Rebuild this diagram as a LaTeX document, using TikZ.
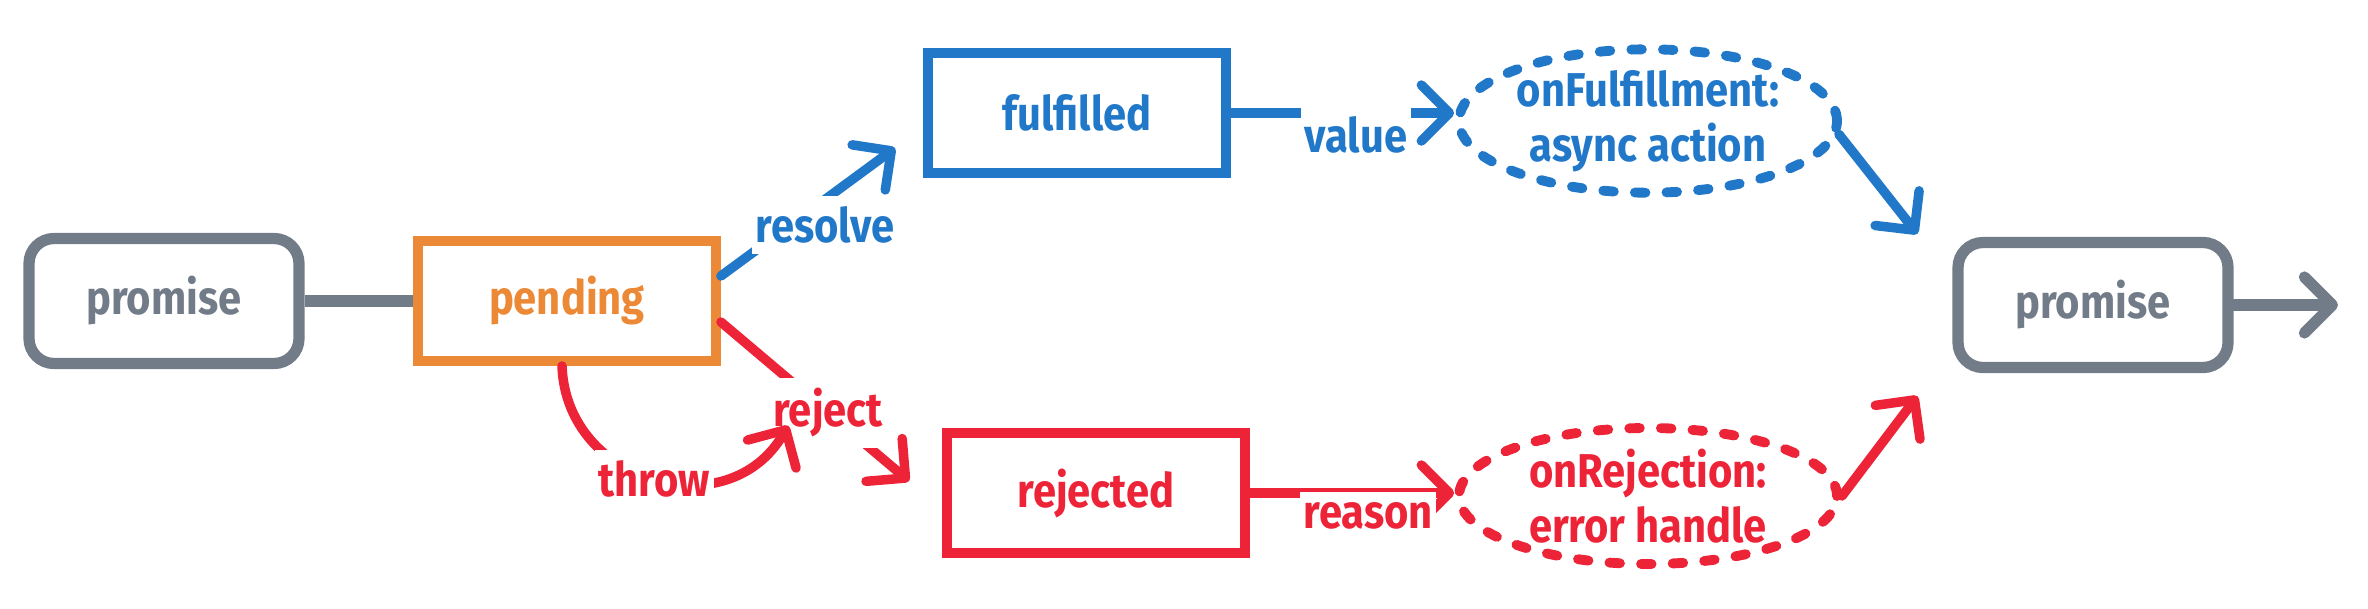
\documentclass[tikz,border=0pt]{standalone}
\usepackage{fontspec}
\setmainfont[FakeStretch=0.88]{Fira Sans}
\usepackage{tikz}
\usetikzlibrary{arrows.meta,shapes.geometric}

\definecolor{pgray}{RGB}{114,124,137}
\definecolor{porange}{RGB}{236,137,54}
\definecolor{pblue}{RGB}{33,120,201}
\definecolor{pred}{RGB}{237,36,56}

\tikzset{
  state/.style={draw, line width=2.8pt, minimum width=2.98cm, minimum height=1.2cm, font=\bfseries\fontsize{13.5}{16}\selectfont},
  promisebox/.style={state, pgray, line width=3.2pt, rounded corners=2.5mm, minimum width=2.7cm, minimum height=1.25cm},
  handler/.style={draw, ellipse, dash pattern=on 3pt off 6pt, line cap=round, line width=2.8pt, minimum width=3.78cm, minimum height=1.36cm, inner sep=0pt, align=center, font=\bfseries\fontsize{13.5}{15.6}\selectfont},
  flow/.style={line width=2.7pt, line cap=round, -{Straight Barb[length=2.8mm,width=5.6mm,round]}},
  lbl/.style={fill=white, inner xsep=1pt, inner ysep=3pt, font=\bfseries\fontsize{13.5}{16}\selectfont},
}

\begin{document}
\begin{tikzpicture}
\useasboundingbox (0,0) rectangle (23.68,6.08);

\node [promisebox] (promisein) at (1.64,3.07) {promise};
\node [state, porange] (pending) at (5.67,3.07) {pending};
\node [state, pblue] (fulfilled) at (10.77,4.95) {fulfilled};
\node [state, pred] (rejected) at (10.96,1.15) {rejected};
\node [handler, pblue] (onfulfill) at (16.48,4.87) {onFulfillment:\\async action};
\node [handler, pred] (onreject) at (16.48,1.12) {onRejection:\\error handle};
\node [promisebox] (promiseout) at (20.93,3.03) {promise};
\coordinate (exit) at (23.38,3.03);

\draw [pgray, line width=3.2pt] (promisein) -- (pending);
\draw [flow, pgray, line width=3.2pt] (promiseout) -- (exit);

\draw [flow, pblue] ([yshift=2.5mm]pending.east) -- ([xshift=-2.8mm,yshift=-3.5mm]fulfilled.west)
  node [lbl, text=pblue, pos=0.6, yshift=-2.6mm] (resolvelbl) {resolve};
\draw [flow, pred] ([yshift=-2.1mm]pending.east) -- ([xshift=-3.3mm,yshift=-5.3mm]rejected.north west)
  node [lbl, text=pred, pos=0.57] (rejectlbl) {reject};
\draw [flow, pred] ([xshift=-0.5mm]pending.south) to [out=-88, in=-120, looseness=1.3]
  node [lbl, text=pred, pos=0.5] (throwlbl) {throw} ([shift={(-0.4,-0.13)}]rejectlbl.center);

\draw [flow, pblue] (fulfilled.east) -- (fulfilled.east -| onfulfill.west)
  node [lbl, text=pblue, pos=0.56, yshift=-2.2mm] (valuelbl) {value};
\draw [flow, pred] (rejected.east) -- (rejected.east -| onreject.west)
  node [lbl, text=pred, pos=0.58, yshift=-2.3mm] (reasonlbl) {reason};

\draw [flow, pblue] (onfulfill.-4) -- ([xshift=-3.5mm,yshift=0.3mm]promiseout.north west);
\draw [flow, pred] (onreject.east) -- ([xshift=-3.5mm,yshift=-2.3mm]promiseout.south west);
\end{tikzpicture}
\end{document}
